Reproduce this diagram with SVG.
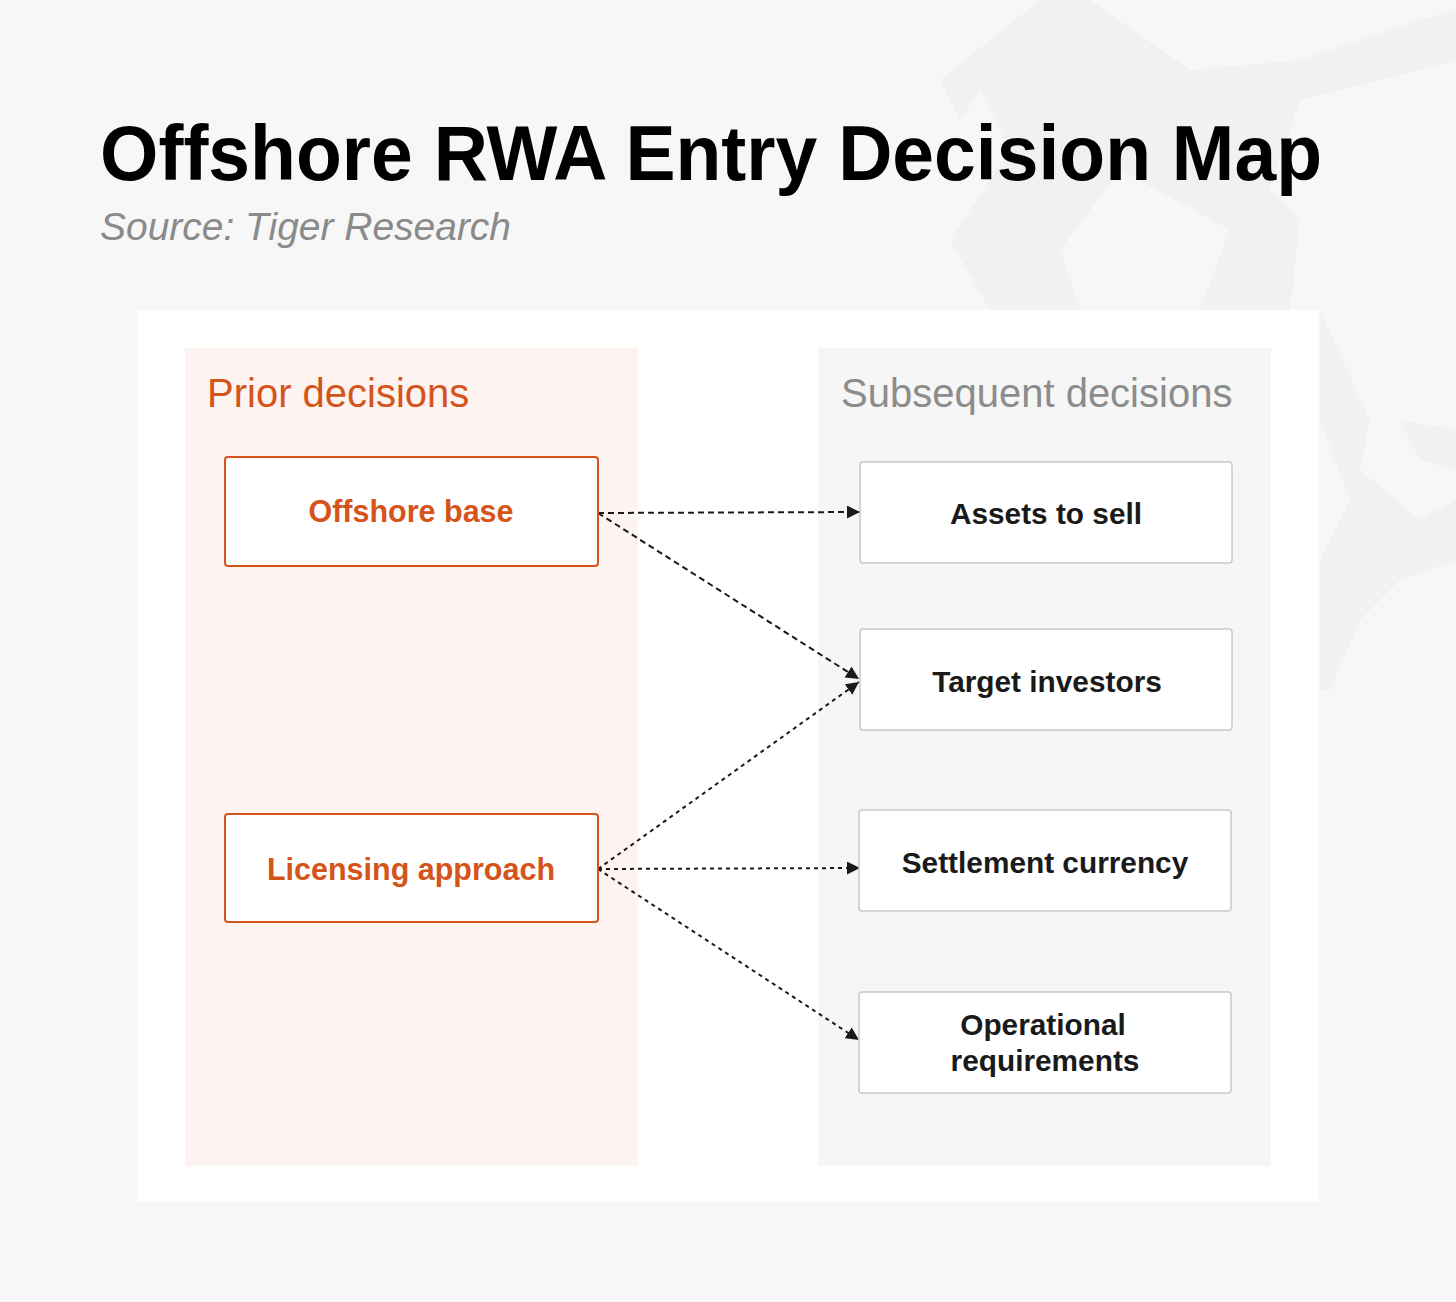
<svg xmlns="http://www.w3.org/2000/svg" width="1456" height="1302" viewBox="0 0 1456 1302">
<defs>
<style>
.bg{fill:#f7f7f7}
.wm{fill:#f1f1f1}
.title{font-family:"Liberation Sans",Arial,sans-serif;font-weight:700;fill:#000}
.sub{font-family:"Liberation Sans",Arial,sans-serif;font-style:italic;fill:#8a8a8a}
.colhead{font-family:"Liberation Sans",Arial,sans-serif;font-size:40px}
.prior{fill:#d4541a}
.subs{fill:#8c8c8c}
.pbox{fill:#fff;stroke:#d4541a;stroke-width:2}
.sbox{fill:#fff;stroke:#c8c8c8;stroke-width:1.5}
.plabel{font-family:"Liberation Sans",Arial,sans-serif;font-weight:700;font-size:30.5px;fill:#d4541a;text-anchor:middle}
.slabel{font-family:"Liberation Sans",Arial,sans-serif;font-weight:700;font-size:29.8px;fill:#1a1a1a;text-anchor:middle}
.c1{fill:none;stroke:#1a1a1a;stroke-width:2;stroke-dasharray:6 4}
.c2{fill:none;stroke:#1a1a1a;stroke-width:2;stroke-dasharray:4 4}
</style>
<marker id="arr" viewBox="0 0 10 10" refX="10" refY="5" markerWidth="13" markerHeight="13" markerUnits="userSpaceOnUse" orient="auto">
<path d="M0,0 L10,5 L0,10 z" fill="#1a1a1a"/>
</marker>
</defs>
<rect class="bg" x="0" y="0" width="1456" height="1302"/>
<g id="watermark">
<polygon class="wm" points="1040,0 1090,0 1190,70 1300,60 1420,20 1456,10 1456,60 1400,75 1300,100 1270,190 1300,220 1290,310 1200,310 1230,230 1120,170 1060,250 1080,310 990,310 950,240 1010,150 980,90 960,120 940,80"/>
<polygon class="wm" points="1320,310 1370,420 1360,470 1420,520 1456,500 1456,560 1400,580 1360,620 1330,690 1320,690 1320,560 1350,500 1320,420"/>
<polygon class="wm" points="1400,420 1456,430 1456,470 1420,460"/>
</g>
<g id="title">
<text class="title" x="100" y="180" font-size="78" textLength="1222" lengthAdjust="spacingAndGlyphs">Offshore RWA Entry Decision Map</text>
<text class="sub" x="100" y="240" font-size="38" textLength="411" lengthAdjust="spacingAndGlyphs">Source: Tiger Research</text>
</g>
<rect x="138" y="310" width="1180" height="892" fill="#ffffff"/>
<g id="col-prior">
<rect x="185" y="348" width="453" height="818" fill="#fdf3f0"/>
<text class="colhead prior" x="207" y="407">Prior decisions</text>
</g>
<g id="col-subsequent">
<rect x="818" y="348" width="453" height="818" fill="#f6f6f6"/>
<text class="colhead subs" x="841" y="407">Subsequent decisions</text>
</g>
<g id="connectors">
<path class="c1" d="M598,513 L860,512" marker-end="url(#arr)"/>
<path class="c1" d="M598,513 L859,679" marker-end="url(#arr)"/>
<path class="c2" d="M598,869 L859,682" marker-end="url(#arr)"/>
<path class="c2" d="M598,869 L860,868" marker-end="url(#arr)"/>
<path class="c2" d="M598,869 L859,1040" marker-end="url(#arr)"/>
</g>
<g id="node-offshore-base">
<rect class="pbox" x="225" y="457" width="373" height="109" rx="3"/>
<text class="plabel" x="411" y="522">Offshore base</text>
</g>
<g id="node-licensing-approach">
<rect class="pbox" x="225" y="814" width="373" height="108" rx="3"/>
<text class="plabel" x="411" y="880">Licensing approach</text>
</g>
<g id="node-assets-to-sell">
<rect class="sbox" x="860" y="462" width="372" height="101" rx="3"/>
<text class="slabel" x="1046" y="524">Assets to sell</text>
</g>
<g id="node-target-investors">
<rect class="sbox" x="860" y="629" width="372" height="101" rx="3"/>
<text class="slabel" x="1047" y="692">Target investors</text>
</g>
<g id="node-settlement-currency">
<rect class="sbox" x="859" y="810" width="372" height="101" rx="3"/>
<text class="slabel" x="1045" y="873">Settlement currency</text>
</g>
<g id="node-operational-requirements">
<rect class="sbox" x="859" y="992" width="372" height="101" rx="3"/>
<text class="slabel" x="1043" y="1035">Operational</text>
<text class="slabel" x="1045" y="1071">requirements</text>
</g>
</svg>
